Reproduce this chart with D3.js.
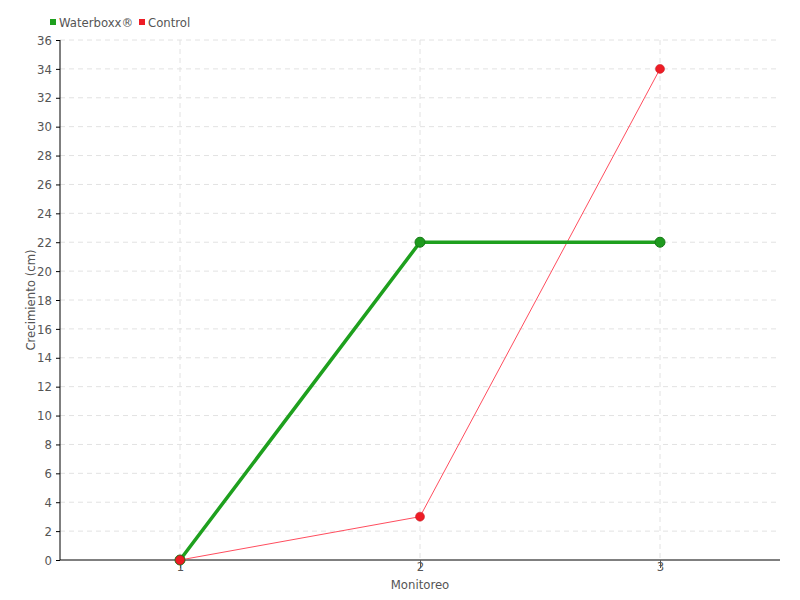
<!DOCTYPE html>
<html>
<head>
<meta charset="utf-8">
<script src="https://cdn.jsdelivr.net/npm/d3@7"></script>
<style>
  body { margin: 0; background: #fff; }
  text { font-family: "DejaVu Sans Condensed", "Liberation Sans Narrow", sans-serif; fill: #555; }
</style>
</head>
<body>
<div id="chart"></div>
<script>
// data
var monitoreo = [1, 2, 3];
var waterboxx = [0, 22, 22];
var control = [0, 3, 34];
var yTicks = d3.range(0, 37, 2);
var seriesNames = ["Waterboxx®", "Control"];

var svgWidth = 800, svgHeight = 600;
var margin = {top: 40, right: 20, bottom: 40, left: 60};
var width = svgWidth - margin.left - margin.right;
var height = svgHeight - margin.top - margin.bottom;

var svg = d3.select("#chart").append("svg")
  .attr("width", svgWidth)
  .attr("height", svgHeight);

var g = svg.append("g")
  .attr("transform", `translate(${margin.left}, ${margin.top})`);

var x = d3.scaleLinear().domain([0.5, 3.5]).range([0, width]);
var y = d3.scaleLinear().domain([0, 36]).range([height, 0]);

// grid
g.append("g").selectAll("line")
  .data(yTicks.filter(d => d > 0))
  .enter().append("line")
  .attr("x1", 0).attr("x2", width)
  .attr("y1", d => y(d)).attr("y2", d => y(d))
  .attr("stroke", "#e2e2e2").attr("stroke-dasharray", "5,4");

g.append("g").selectAll("line")
  .data(monitoreo)
  .enter().append("line")
  .attr("x1", d => x(d)).attr("x2", d => x(d))
  .attr("y1", 0).attr("y2", height)
  .attr("stroke", "#e2e2e2").attr("stroke-dasharray", "5,4");

// axes
var leftAxis = d3.axisLeft(y).tickValues(yTicks).tickSize(4).tickPadding(4);
var bottomAxis = d3.axisBottom(x).tickValues(monitoreo).tickFormat(d3.format("d")).tickSize(8).tickPadding(-6);

var ya = g.append("g").call(leftAxis);
ya.select(".domain").attr("stroke", "#000").attr("d", `M0,${height}V0`);
ya.selectAll(".tick line").attr("stroke", "#000");
ya.selectAll("text").style("font-size", "13px").attr("fill", "#555");

var xa = g.append("g").attr("transform", `translate(0, ${height})`).call(bottomAxis);
xa.select(".domain").attr("stroke", "#000").attr("d", `M0,0H${width}`);
xa.selectAll(".tick line").attr("stroke", "#555");
xa.selectAll("text").style("font-size", "13px").attr("fill", "#555");

// lines
var lineW = d3.line().x((d, i) => x(monitoreo[i])).y(d => y(d));

g.append("path").datum(control)
  .attr("d", lineW).attr("fill", "none")
  .attr("stroke", "#ff4d5e").attr("stroke-width", 1);

g.append("path").datum(waterboxx)
  .attr("d", lineW).attr("fill", "none")
  .attr("stroke", "#1ea01e").attr("stroke-width", 3.5);

g.append("g").selectAll("circle")
  .data(waterboxx).enter().append("circle")
  .attr("cx", (d, i) => x(monitoreo[i])).attr("cy", d => y(d))
  .attr("r", 5).attr("fill", "#1e9a1e").attr("stroke", "#157a15").attr("stroke-width", 1);

g.append("g").selectAll("circle")
  .data(control).enter().append("circle")
  .attr("cx", (d, i) => x(monitoreo[i])).attr("cy", d => y(d))
  .attr("r", 4.5).attr("fill", "#ee1c25").attr("stroke", "#c0141c").attr("stroke-width", 0.5);

// axis labels
g.append("text")
  .attr("x", x(2)).attr("y", height + 29)
  .attr("text-anchor", "middle")
  .style("font-size", "13px")
  .text("Monitoreo");

g.append("text")
  .attr("transform", "rotate(-90)")
  .attr("x", -height / 2).attr("y", -25)
  .attr("text-anchor", "middle")
  .style("font-size", "13px")
  .text("Crecimiento (cm)");

// legend
var legendColors = ["#1ea01e", "#ee1c25"];
var legendX = [50, 139];
var legend = svg.append("g").selectAll("g")
  .data(seriesNames).enter().append("g")
  .attr("transform", (d, i) => `translate(${legendX[i]}, 22)`);
legend.append("rect")
  .attr("x", 0).attr("y", -3).attr("width", 6).attr("height", 6)
  .attr("fill", (d, i) => legendColors[i]);
legend.append("text")
  .attr("x", 9).attr("y", 5)
  .style("font-size", "13px")
  .text(d => d);
</script>
</body>
</html>
